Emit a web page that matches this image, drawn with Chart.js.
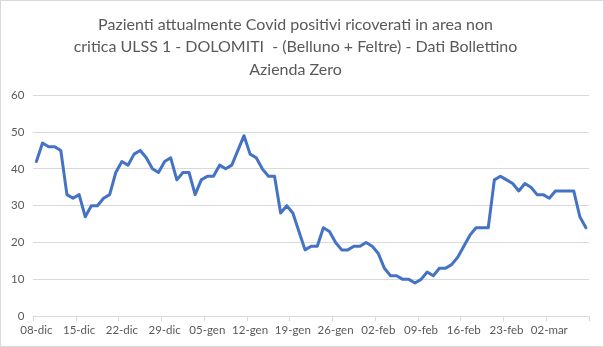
<!DOCTYPE html>
<html>
<head>
<meta charset="utf-8">
<script src="https://cdn.jsdelivr.net/npm/chart.js@4/dist/chart.umd.min.js"></script>
<style>
  body { margin: 0; background: #fff; }
  #wrap { position: relative; width: 604px; height: 347px; }
  #frame { position: absolute; left: 0; top: 0; width: 604px; height: 347px; box-sizing: border-box; border: 1px solid #d9d9d9; pointer-events: none; }
</style>
</head>
<body>
<div id="wrap">
  <canvas id="chart" width="604" height="347"></canvas>
  <div id="frame"></div>
</div>
<script>
// =====================
// Dati
// =====================
const mesi = ['gen', 'feb', 'mar', 'apr', 'mag', 'giu', 'lug', 'ago', 'set', 'ott', 'nov', 'dic'];

// giorni dal 08-dic al 08-mar
const giorni = [];
for (let i = 0; i < 91; i++) {
  const d = new Date(2020, 11, 8 + i);
  giorni.push(String(d.getDate()).padStart(2, '0') + '-' + mesi[d.getMonth()]);
}

const tickLabels = ['08-dic', '15-dic', '22-dic', '29-dic', '05-gen', '12-gen', '19-gen',
  '26-gen', '02-feb', '09-feb', '16-feb', '23-feb', '02-mar'];

const ricoverati = [
  42, 47, 46, 46, 45, 33, 32, 33, 27, 30, 30, 32, 33, 39,
  42, 41, 44, 45, 43, 40, 39, 42, 43, 37, 39, 39, 33, 37,
  38, 38, 41, 40, 41, 45, 49, 44, 43, 40, 38, 38, 28, 30,
  28, 23, 18, 19, 19, 24, 23, 20, 18, 18, 19, 19, 20, 19,
  17, 13, 11, 11, 10, 10, 9, 10, 12, 11, 13, 13, 14, 16,
  19, 22, 24, 24, 24, 37, 38, 37, 36, 34, 36, 35, 33, 33,
  32, 34, 34, 34, 34, 27, 24
];

const titolo = [
  'Pazienti attualmente Covid positivi ricoverati in area non',
  'critica ULSS 1 - DOLOMITI  - (Belluno + Feltre) - Dati Bollettino',
  'Azienda Zero'
];

// =====================
// Chart
// =====================
const grigio = '#595959';
const griglia = '#d9d9d9';
const font = 'Lato, "Open Sans", sans-serif';

const ctx = document.getElementById('chart').getContext('2d');
new Chart(ctx, {
  type: 'line',
  data: {
    labels: giorni,
    datasets: [{
      label: 'Ricoverati',
      data: ricoverati,
      borderColor: '#4472c4',
      borderWidth: 3,
      borderJoinStyle: 'round',
      borderCapStyle: 'round',
      pointRadius: 0,
      tension: 0,
      fill: false
    }]
  },
  options: {
    responsive: false,
    animation: false,
    layout: { padding: { left: 2, right: 15, top: 0, bottom: 8 } },
    plugins: {
      legend: { display: false },
      tooltip: { enabled: false },
      title: {
        display: true,
        text: titolo,
        color: grigio,
        font: { family: font, size: 16, weight: 'normal', lineHeight: 1.42 },
        padding: { top: 13, bottom: 14 }
      }
    },
    scales: {
      x: {
        offset: true,
        grid: {
          offset: true,
          drawOnChartArea: false,
          drawTicks: true,
          tickLength: 5,
          color: (c) => (c.index === undefined || c.index % 7 === 0) ? griglia : 'rgba(0,0,0,0)'
        },
        border: { color: griglia },
        ticks: {
          autoSkip: false,
          maxRotation: 0,
          color: grigio,
          font: { family: font, size: 11.5 },
          padding: 2,
          callback: (v, i) => tickLabels.includes(giorni[i]) ? giorni[i] : ''
        }
      },
      y: {
        min: 0,
        max: 60,
        grid: { color: griglia, drawTicks: false },
        border: { display: false },
        ticks: {
          stepSize: 10,
          color: grigio,
          font: { family: font, size: 11.5 },
          padding: 9
        }
      }
    }
  }
});
</script>
</body>
</html>
